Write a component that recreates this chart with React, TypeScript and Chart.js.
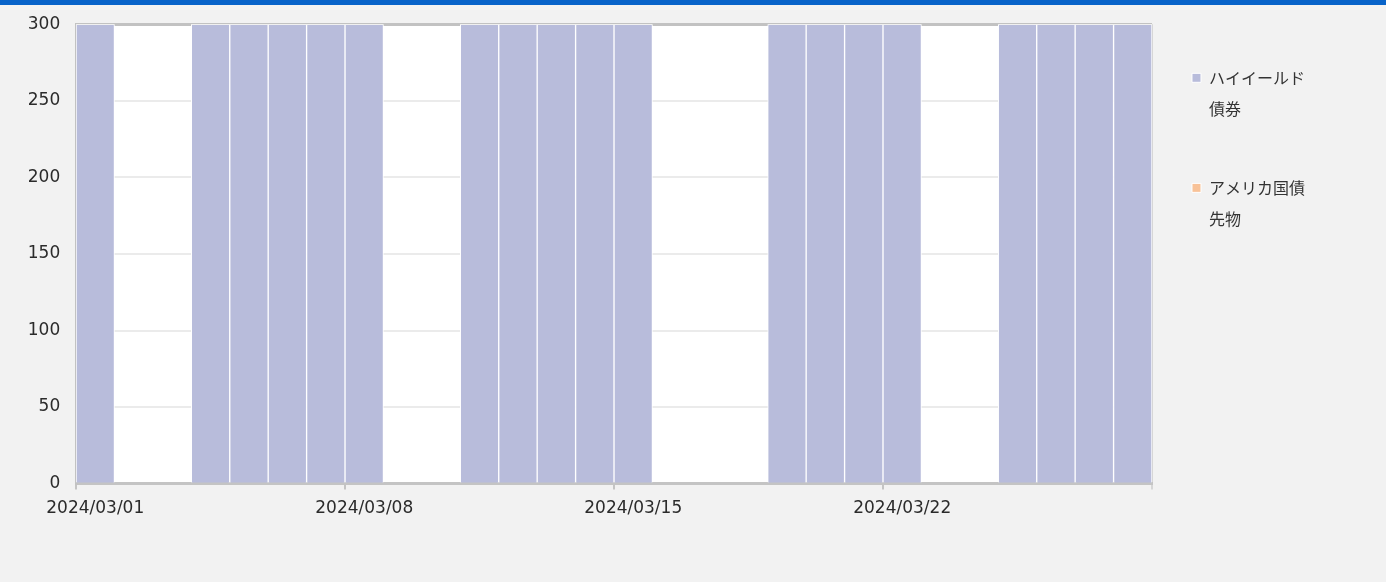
import { useEffect, useRef } from 'react';
import { Chart, registerables } from 'chart.js';

Chart.register(...registerables);

// ---- data ----
const dates = [
  '2024/03/01', '2024/03/02', '2024/03/03', '2024/03/04', '2024/03/05', '2024/03/06', '2024/03/07',
  '2024/03/08', '2024/03/09', '2024/03/10', '2024/03/11', '2024/03/12', '2024/03/13', '2024/03/14',
  '2024/03/15', '2024/03/16', '2024/03/17', '2024/03/18', '2024/03/19', '2024/03/20', '2024/03/21',
  '2024/03/22', '2024/03/23', '2024/03/24', '2024/03/25', '2024/03/26', '2024/03/27', '2024/03/28',
];

const highYieldBonds = [
  300, null, null, 300, 300, 300, 300,
  300, null, null, 300, 300, 300, 300,
  300, null, null, null, 300, 300, 300,
  300, null, null, 300, 300, 300, 300,
];

const usTreasuryFutures = [
  0, 0, 0, 0, 0, 0, 0,
  0, 0, 0, 0, 0, 0, 0,
  0, 0, 0, 0, 0, 0, 0,
  0, 0, 0, 0, 0, 0, 0,
];

const seriesNames = [
  ['ハイイールド', '債券'],
  ['アメリカ国債', '先物'],
];

const seriesColors = ['#b8bcdb', '#f8c298'];

const yMin = 0;
const yMax = 300;
const yStep = 50;
const labelEvery = 7;

const TRANSPARENT = 'rgba(0,0,0,0)';

const plotBackground = {
  id: 'plotBackground',
  beforeDraw(chart: any) {
    const { ctx, chartArea } = chart;
    if (!chartArea) return;
    ctx.save();
    ctx.fillStyle = '#ffffff';
    ctx.fillRect(chartArea.left, chartArea.top, chartArea.right - chartArea.left, chartArea.bottom - chartArea.top);
    ctx.restore();
  },
};

export default function App() {
  const canvasRef = useRef<HTMLCanvasElement>(null);

  useEffect(() => {
    document.body.style.margin = '0';
    document.body.style.background = '#f2f2f2';
    const canvas = canvasRef.current;
    if (!canvas) return;

    const chart = new Chart(canvas, {
      type: 'bar',
      data: {
        labels: dates,
        datasets: [
          {
            label: [...seriesNames[0], ''] as any,
            data: highYieldBonds as any,
            backgroundColor: seriesColors[0],
            borderColor: '#ffffff',
            borderWidth: 1,
            barPercentage: 1,
            categoryPercentage: 1,
          },
          {
            label: [...seriesNames[1], ''] as any,
            data: usTreasuryFutures,
            backgroundColor: seriesColors[1],
            borderColor: '#ffffff',
            borderWidth: 1,
            barPercentage: 1,
            categoryPercentage: 1,
          },
        ],
      },
      options: {
        animation: false,
        responsive: false,
        events: [],
        layout: { padding: { left: 12, top: 24.3, right: 71, bottom: 54 } },
        plugins: {
          legend: {
            position: 'right',
            align: 'start',
            title: { display: true, text: '', padding: { top: 0, bottom: 18 }, font: { size: 10 } },
            labels: {
              boxWidth: 9,
              boxHeight: 9,
              padding: 15.5,
              color: '#333333',
              font: { family: "'Noto Sans CJK JP', 'Noto Sans'", size: 16, lineHeight: 1.97 },
            },
          },
          tooltip: { enabled: false },
        },
        scales: {
          x: {
            type: 'category',
            stacked: true,
            offset: true,
            z: 1,
            grid: {
              display: true,
              offset: true,
              drawOnChartArea: true,
              drawTicks: true,
              tickLength: 6,
              lineWidth: 2,
              tickWidth: 2,
              color: (ctx: any) => (ctx.index === undefined ? '#d6d6d6' : TRANSPARENT),
              tickColor: (ctx: any) =>
                ctx.index === undefined ? '#d6d6d6' : ctx.index % labelEvery === 0 ? '#c4c4c4' : TRANSPARENT,
            },
            border: { display: true, color: '#c4c4c4', width: 3 },
            ticks: {
              autoSkip: false,
              maxRotation: 0,
              minRotation: 0,
              padding: 9,
              color: '#2b2b2b',
              font: { family: "'DejaVu Sans'", size: 17 },
              callback: (_v: any, i: number) => (i % labelEvery === 0 ? dates[i] : ''),
            },
          },
          y: {
            stacked: true,
            min: yMin,
            max: yMax,
            grid: {
              drawTicks: false,
              color: (ctx: any) =>
                ctx.tick && ctx.tick.value === yMax ? '#c2c2c2' : ctx.tick && ctx.tick.value === yMin ? TRANSPARENT : '#ebebeb',
              lineWidth: (ctx: any) => (ctx.tick && ctx.tick.value === yMax ? 3 : 2),
            },
            border: { display: true, color: '#c2c2c2', width: 3 },
            ticks: {
              stepSize: yStep,
              padding: 15.8,
              color: '#2b2b2b',
              font: { family: "'DejaVu Sans'", size: 17, lineHeight: 1.0 },
            },
          },
          pad: {
            type: 'linear',
            position: 'right',
            display: true,
            grid: { display: false },
            border: { display: false },
            ticks: { display: false },
            afterFit: (s: any) => {
              s.width = 24.5;
            },
          },
        },
      } as any,
      plugins: [plotBackground],
    });

    return () => chart.destroy();
  }, []);

  return (
    <div style={{ position: 'relative', width: 1386, height: 582, background: '#f2f2f2', overflow: 'hidden' }}>
      <canvas ref={canvasRef} width={1386} height={582} style={{ display: 'block' }} />
      <div style={{ position: 'absolute', left: 0, top: 0, width: 1386, height: 5, background: '#0863c9' }} />
    </div>
  );
}
